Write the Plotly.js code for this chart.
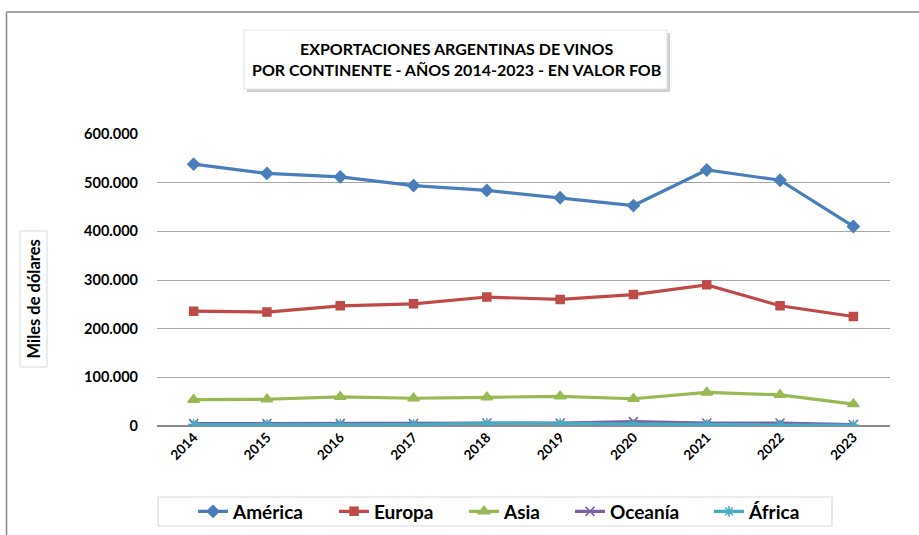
<!DOCTYPE html>
<html>
<head>
<meta charset="utf-8">
<script src="https://cdn.plot.ly/plotly-3.0.1.min.js"></script>
<style>html,body{margin:0;padding:0;background:#fff;}#chart{width:919px;height:535px;}</style>
</head>
<body>
<div id="chart"></div>
<script>
const years = ["2014","2015","2016","2017","2018","2019","2020","2021","2022","2023"];
const america = [538000, 519000, 512000, 494000, 484000, 469000, 453000, 526000, 505000, 410000];
const europa  = [236000, 234000, 247000, 251000, 265000, 260000, 270000, 290000, 247000, 225000];
const asia    = [54000, 55000, 60000, 57000, 59000, 61000, 56000, 69000, 64000, 45000];
const oceania = [5000, 5000, 5000, 5000, 6000, 6000, 9000, 6000, 6000, 3000];
const africa  = [3000, 3000, 3000, 3000, 6000, 5000, 3000, 3000, 2000, 2000];
const seriesNames = ["América", "Europa", "Asia", "Oceanía", "África"];
const titleLines = ["EXPORTACIONES ARGENTINAS DE VINOS", "POR CONTINENTE - AÑOS 2014-2023 - EN VALOR FOB"];
const yTitle = "Miles de dólares";

const W = 919, H = 535;
const M = {l: 157, r: 29, t: 134, b: 109};
const PW = W - M.l - M.r, PH = H - M.t - M.b;
const px = x => (x - M.l) / PW;
const py = y => (H - M.b - y) / PH;
const FONT = "Lato, 'Open Sans', sans-serif";

const colors = ["#4A7EBB", "#BE4B48", "#98B954", "#7D60A0", "#46AAC5"];
const symbols = ["diamond", "square", "triangle-up", "x-thin-open", "asterisk-open"];
const sizes = [9, 8, 10, 9, 9];
const dataSets = [america, europa, asia, oceania, africa];
const legendX = [198, 339, 469, 575, 714];

const traces = dataSets.map((d, i) => ({
  type: "scatter", mode: "lines+markers", x: years, y: d, name: seriesNames[i],
  line: {color: colors[i], width: 3.2},
  marker: {symbol: symbols[i], size: sizes[i], color: colors[i], line: {color: colors[i], width: 1.5}},
  legend: i === 0 ? "legend" : "legend" + (i + 1),
  hoverinfo: "x+y"
}));

const layout = {
  width: W, height: H,
  margin: M,
  paper_bgcolor: "#fff", plot_bgcolor: "#fff",
  separators: ",.",
  font: {family: FONT, color: "#000"},
  xaxis: {
    type: "category", range: [-0.5, 9.5], showgrid: false, zeroline: false,
    showline: false, ticks: "", tickangle: -45,
    tickfont: {family: FONT, size: 13.5, color: "#000", weight: "bold"},
    fixedrange: true
  },
  yaxis: {
    range: [0, 600000], dtick: 100000, tickformat: ",d",
    showgrid: true, gridcolor: "#A6A6A6", gridwidth: 1,
    zeroline: true, zerolinecolor: "#8C8C8C", zerolinewidth: 1.2,
    showline: false, ticks: "", ticklabelstandoff: 18,
    tickfont: {family: FONT, size: 14.5, color: "#000", weight: "bold"},
    fixedrange: true
  },
  showlegend: true,
  shapes: [
    {type: "line", xref: "paper", yref: "paper", x0: px(6.5), x1: px(6.5), y0: py(12), y1: py(540), line: {color: "#878787", width: 1.5}},
    {type: "line", xref: "paper", yref: "paper", x0: px(6.5), x1: px(925), y0: py(12), y1: py(12), line: {color: "#878787", width: 1.5}},
    {type: "rect", xref: "paper", yref: "paper", x0: px(247), x1: px(670), y0: py(92), y1: py(33), line: {width: 0}, fillcolor: "#CFCFCF", layer: "below"},
    {type: "rect", xref: "paper", yref: "paper", x0: px(244), x1: px(667), y0: py(89), y1: py(30), line: {color: "#E4E4E4", width: 1}, fillcolor: "#fff", layer: "below"},
    {type: "rect", xref: "paper", yref: "paper", x0: px(20), x1: px(47), y0: py(367), y1: py(231), line: {color: "#D9D9D9", width: 1}, fillcolor: "#fff", layer: "below"},
    {type: "rect", xref: "paper", yref: "paper", x0: px(158), x1: px(832), y0: py(526), y1: py(497), line: {color: "#D9D9D9", width: 1.2}, fillcolor: "#fff", layer: "below"}
  ],
  annotations: [
    {xref: "paper", yref: "paper", x: px(456), y: py(59), xanchor: "center", yanchor: "middle", showarrow: false,
     text: "<b>" + titleLines.join("<br>") + "</b>", align: "center",
     font: {family: FONT, size: 16, color: "#000"}},
    {xref: "paper", yref: "paper", x: px(33.5), y: py(299), xanchor: "center", yanchor: "middle", showarrow: false,
     textangle: -90, text: "<b>" + yTitle + "</b>", font: {family: FONT, size: 16.5, color: "#000"}}
  ]
};

legendX.forEach((lx, i) => {
  const key = i === 0 ? "legend" : "legend" + (i + 1);
  layout[key] = {
    xref: "container", yref: "container", x: (lx - 5) / W, y: 1 - 511.5 / H,
    xanchor: "left", yanchor: "middle", orientation: "h",
    bgcolor: "rgba(0,0,0,0)", borderwidth: 0,
    font: {family: FONT, size: 19, color: "#000", weight: "bold"}
  };
});

Plotly.newPlot("chart", traces, layout, {displayModeBar: false, staticPlot: true});
</script>
</body>
</html>
